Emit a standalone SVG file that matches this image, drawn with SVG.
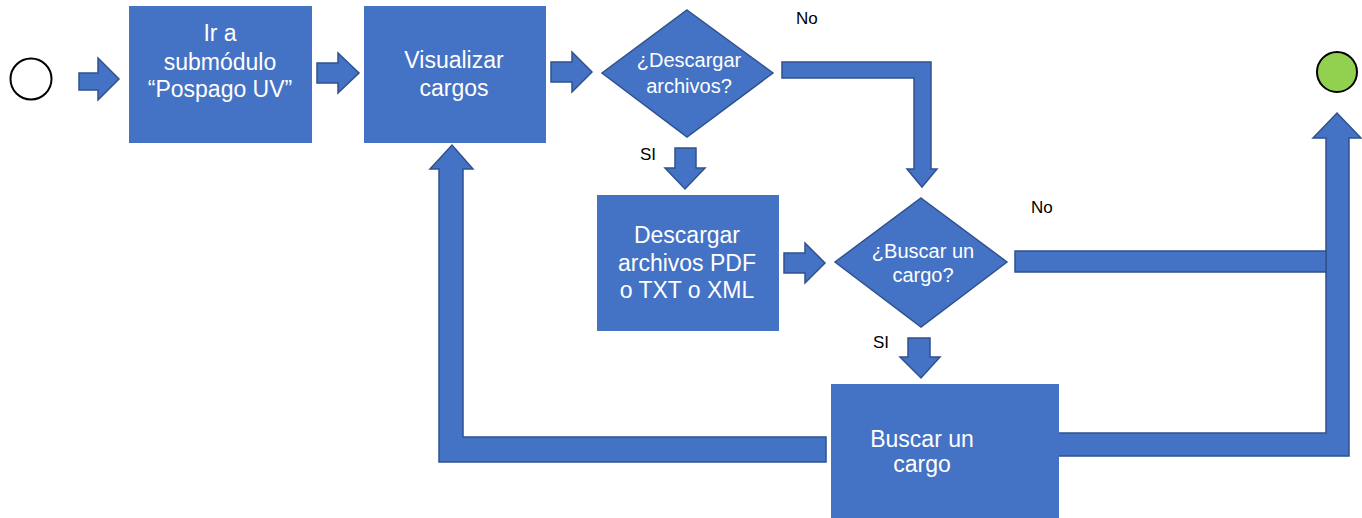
<svg xmlns="http://www.w3.org/2000/svg" width="1362" height="518" viewBox="0 0 1362 518">
<style>
.box{fill:#4472C4;}
.arr{fill:#4472C4;stroke:#2F528F;stroke-width:1.5;stroke-linejoin:miter;}
.dia{fill:#4472C4;stroke:#2F528F;stroke-width:1.5;}
.t{font-family:"Liberation Sans",Arial,sans-serif;fill:#FFFFFF;text-anchor:middle;font-size:23px;}
.td{font-family:"Liberation Sans",Arial,sans-serif;fill:#FFFFFF;text-anchor:middle;font-size:20px;}
.lbl{font-family:"Liberation Sans",Arial,sans-serif;fill:#000000;font-size:17px;}
</style>
<rect width="1362" height="518" fill="#FFFFFF"/>
<g id="connectors">
  <polygon class="arr" points="79,73 98,73 98,58 119,79 98,100 98,90 79,90"/>
  <polygon class="arr" points="317,63 338,63 338,53 359,73 338,93 338,83 317,83"/>
  <polygon class="arr" points="551,62 572,62 572,52 592,72 572,92 572,82 551,82"/>
  <polygon class="arr" points="782,62 931,62 931,169 937,169 922,187 907,169 914,169 914,78 782,78"/>
  <polygon class="arr" points="675,148 696,148 696,168 705,168 685,189 665,168 675,168"/>
  <polygon class="arr" points="784,253 805,253 805,243 825,263 805,283 805,273 784,273"/>
  <polygon class="arr" points="908,338 930,338 930,357 940,357 921,378 900,357 908,357"/>
  <polygon class="arr" points="826,437 463,437 463,169 473,169 452,145 430,169 439,169 439,462 826,462"/>
  <polygon class="arr" points="1058,433 1326,433 1326,138 1313,138 1337,113 1361,138 1349,138 1349,456 1058,456"/>
  <polygon class="arr" points="1015,251 1326,251 1326,272 1015,272"/>
  <text class="lbl" x="796" y="24">No</text>
  <text class="lbl" x="640" y="160">SI</text>
  <text class="lbl" x="1031" y="213">No</text>
  <text class="lbl" x="873" y="348">SI</text>
</g>
<g id="start">
  <circle cx="31" cy="79" r="20.5" fill="#FFFFFF" stroke="#000000" stroke-width="2"/>
</g>
<g id="end">
  <circle cx="1337" cy="72" r="20" fill="#92D050" stroke="#000000" stroke-width="2"/>
</g>
<g id="ir-submodulo">
  <rect class="box" x="129" y="6" width="183" height="137"/>
  <text class="t" x="220" y="41">Ir a</text>
  <text class="t" x="220" y="70">submódulo</text>
  <text class="t" x="220" y="97">“Pospago UV”</text>
</g>
<g id="visualizar">
  <rect class="box" x="364" y="6" width="182" height="137"/>
  <text class="t" x="454" y="68">Visualizar</text>
  <text class="t" x="454" y="96">cargos</text>
</g>
<g id="descargar-q">
  <polygon class="dia" points="687,10 773,73 687,137 602,73"/>
  <text class="td" x="689" y="67">¿Descargar</text>
  <text class="td" x="689" y="93">archivos?</text>
</g>
<g id="descargar">
  <rect class="box" x="597" y="195" width="182" height="136"/>
  <text class="t" x="687" y="243">Descargar</text>
  <text class="t" x="687" y="271">archivos PDF</text>
  <text class="t" x="687" y="298">o TXT o XML</text>
</g>
<g id="buscar-q">
  <polygon class="dia" points="921,198 1007,262 921,327 835,262"/>
  <text class="td" x="923" y="258">¿Buscar un</text>
  <text class="td" x="923" y="282">cargo?</text>
</g>
<g id="buscar">
  <rect class="box" x="831" y="384" width="228" height="134"/>
  <text class="t" x="922" y="447">Buscar un</text>
  <text class="t" x="922" y="472">cargo</text>
</g>
</svg>
